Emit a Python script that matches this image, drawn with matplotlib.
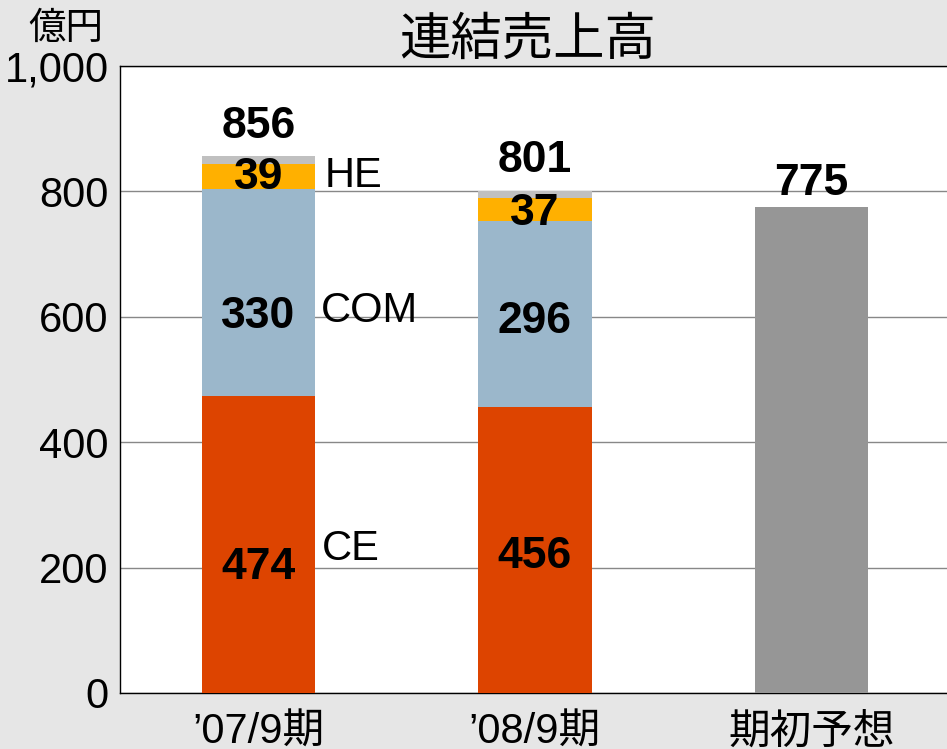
import numpy as np
import matplotlib.pyplot as plt

plt.rcParams['font.family'] = ['Liberation Sans', 'Noto Sans CJK JP', 'DejaVu Sans']

# data
categories = ["’07/9期", "’08/9期", "期初予想"]
ce = [474, 456]
com = [330, 296]
he = [39, 37]
totals = [856, 801]
forecast = 775
other = [t - a - b - c for t, a, b, c in zip(totals, ce, com, he)]

C_CE = "#dd4400"
C_COM = "#9bb7cb"
C_HE = "#ffb000"
C_OTHER = "#c0c0c0"
C_FC = "#969696"
BG = "#e6e6e6"

fig = plt.figure(figsize=(9.47, 7.49), dpi=100, facecolor=BG)
ax = fig.add_axes([0.1267, 0.0748, 0.8733, 0.8371])

x = np.arange(2)
w = 0.41
ce_a = np.array(ce)
com_a = np.array(com)
he_a = np.array(he)
ax.bar(x, ce_a, w, color=C_CE, zorder=3)
ax.bar(x, com_a, w, bottom=ce_a, color=C_COM, zorder=3)
ax.bar(x, he_a, w, bottom=ce_a + com_a, color=C_HE, zorder=3)
ax.bar(x, other, w, bottom=ce_a + com_a + he_a, color=C_OTHER, zorder=3)
ax.bar(2, forecast, w, color=C_FC, zorder=3)

# value labels (placement offsets from segment centres / bar tops)
bold = dict(fontsize=32, fontweight="bold", ha="center", va="center", zorder=4)
ce_lab_y = [200, 218]
com_off = [-39, -11]
he_off = [-2, -6]
tot_off = [47, 49]
for i in range(2):
    ax.text(x[i], ce_lab_y[i], str(ce[i]), **bold)
    ax.text(x[i], ce[i] + com[i] / 2 + com_off[i], str(com[i]), **bold)
    ax.text(x[i], ce[i] + com[i] + he[i] / 2 + he_off[i], str(he[i]), **bold)
    ax.text(x[i], totals[i] + tot_off[i], str(totals[i]), **bold)
ax.text(2, forecast + 38, str(forecast), **bold)

# segment names
seg = dict(fontsize=30, ha="left", va="center", zorder=4)
ax.text(0.24, 824, "HE", **seg)
ax.text(0.225, 609, "COM", **seg)
ax.text(0.23, 230, "CE", **seg)

ax.set_xlim(-0.5, 2.49)
ax.set_ylim(0, 1000)
ax.set_yticks([0, 200, 400, 600, 800, 1000])
ax.set_yticklabels(["0", "200", "400", "600", "800", "1,000"])
ax.set_xticks([0, 1, 2])
ax.set_xticklabels(categories)
ax.tick_params(axis="y", length=0, labelsize=30, pad=8)
ax.tick_params(axis="x", length=0, labelsize=30, pad=14)
ax.yaxis.grid(True, color="#888888", linewidth=1, zorder=0)
ax.set_axisbelow(True)
ax.spines["right"].set_visible(False)
for s in ["left", "bottom", "top"]:
    ax.spines[s].set_color("black")
    ax.spines[s].set_linewidth(1)

fig.text(0.07, 0.962, "億円", fontsize=27, ha="center", va="center")
fig.text(0.557, 0.945, "連結売上高", fontsize=37, ha="center", va="center")

fig.savefig("out.png", dpi=100, facecolor=BG)
